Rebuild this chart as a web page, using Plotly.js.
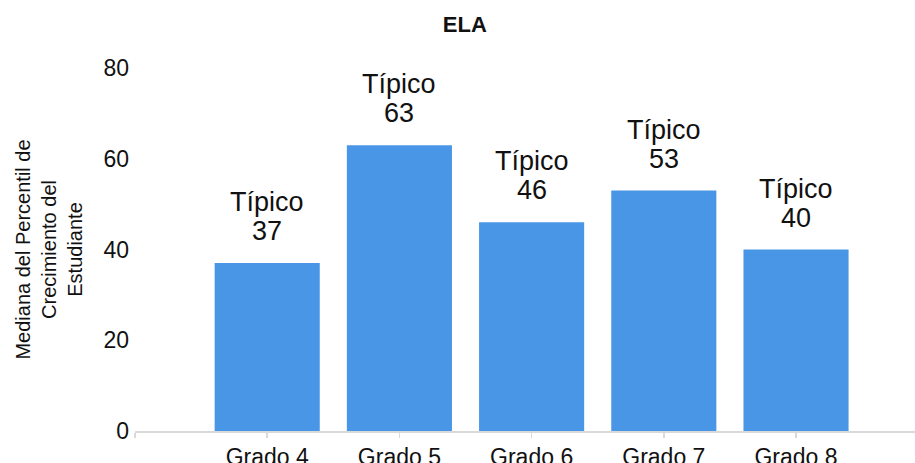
<!DOCTYPE html>
<html>
<head>
<meta charset="utf-8">
<script src="https://cdn.plot.ly/plotly-3.0.1.min.js"></script>
<style>
  html, body { margin: 0; padding: 0; background: #fff; }
  #chart { width: 915px; height: 463px; }
</style>
</head>
<body>
<div id="chart"></div>
<script>
// Data
const categories = ["Grado 4", "Grado 5", "Grado 6", "Grado 7", "Grado 8"];
const values = [37, 63, 46, 53, 40];
const labelWord = "Típico";
const chartTitle = "ELA";
const yTitle = "Mediana del Percentil de<br>Crecimiento del<br>Estudiante";
const yTicks = [0, 20, 40, 60, 80];

const FONT = "Liberation Sans, Arial, sans-serif";
const BAR_COLOR = "#4a96e6";

const trace = {
  type: "bar",
  x: categories,
  y: values,
  marker: { color: BAR_COLOR },
  hoverinfo: "none",
  showlegend: false
};

const annotations = [];
categories.forEach((c, i) => {
  annotations.push({
    x: c, y: values[i], xref: "x", yref: "y",
    text: String(values[i]),
    showarrow: false, yanchor: "bottom", xanchor: "center",
    yshift: 15,
    font: { family: FONT, size: 27, color: "#111" }
  });
  annotations.push({
    x: c, y: values[i], xref: "x", yref: "y",
    text: labelWord,
    showarrow: false, yanchor: "bottom", xanchor: "center",
    yshift: 44,
    font: { family: FONT, size: 27, color: "#111" }
  });
});

const layout = {
  width: 915,
  height: 463,
  margin: { l: 135, r: 0, t: 68, b: 32 },
  paper_bgcolor: "#ffffff",
  plot_bgcolor: "#ffffff",
  font: { family: FONT, color: "#111" },
  bargap: 0.205,
  title: {
    text: "<b>" + chartTitle + "</b>",
    font: { family: FONT, size: 22, color: "#111" },
    x: 0.508, xanchor: "center",
    y: 0.947, yanchor: "middle"
  },
  xaxis: {
    type: "category",
    categoryorder: "array",
    categoryarray: [" "].concat(categories),
    range: [0, 5.9],
    showline: true,
    linecolor: "#d9d9d9",
    linewidth: 1.5,
    ticks: "outside",
    ticklen: 5,
    tickcolor: "#d9d9d9",
    tickwidth: 1.5,
    showgrid: false,
    zeroline: false,
    tickfont: { family: FONT, size: 23, color: "#111" },
    fixedrange: true
  },
  yaxis: {
    range: [0, 80],
    tickvals: yTicks,
    showline: false,
    showgrid: false,
    zeroline: false,
    ticks: "",
    ticklabelstandoff: 5,
    tickfont: { family: FONT, size: 23, color: "#111" },
    title: {
      text: yTitle,
      font: { family: FONT, size: 20, color: "#111" },
      standoff: 15
    },
    fixedrange: true
  },
  annotations: annotations
};

Plotly.newPlot("chart", [trace], layout, { displayModeBar: false, staticPlot: true });
</script>
</body>
</html>
